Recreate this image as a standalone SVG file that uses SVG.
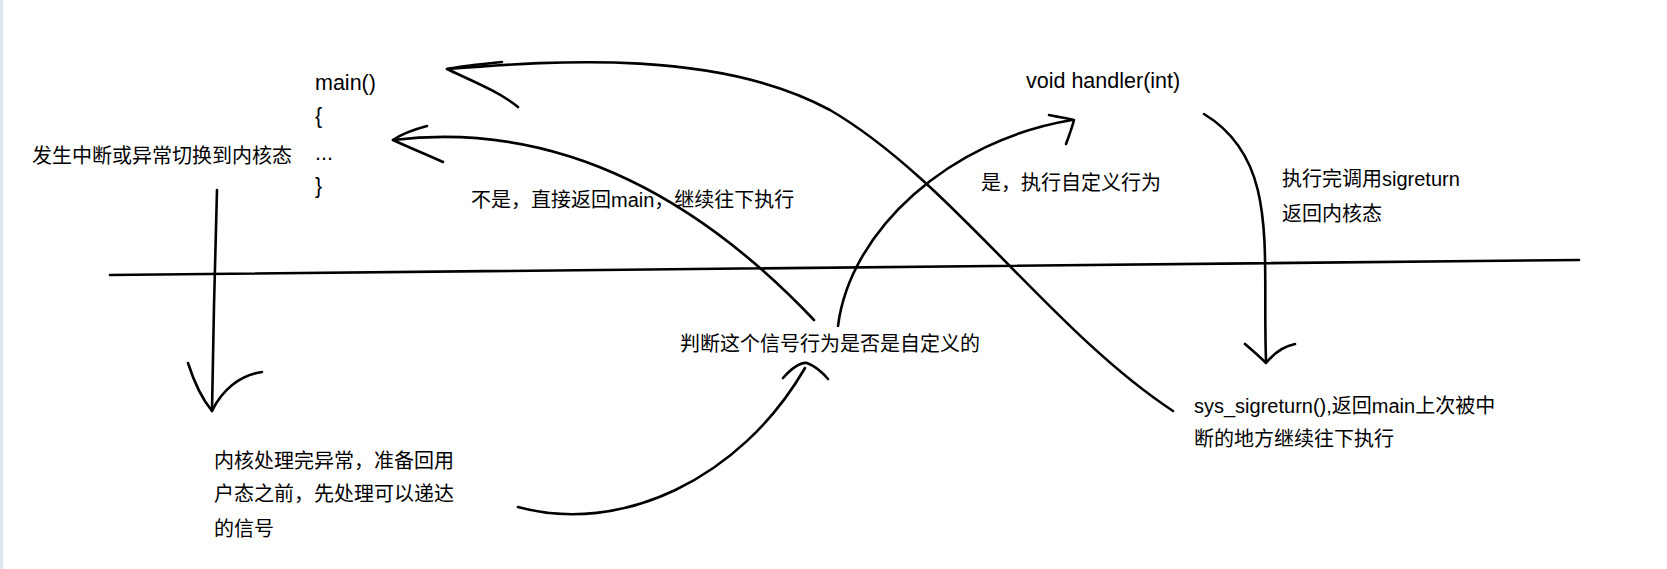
<svg xmlns="http://www.w3.org/2000/svg" width="1667" height="569" viewBox="0 0 1667 569">
<style>
text{font-family:"Liberation Sans","Noto Sans CJK SC",sans-serif;font-size:20px;fill:#000}
.l{font-size:21.5px}
.s{fill:none;stroke:#000;stroke-width:2.6;stroke-linecap:round;stroke-linejoin:round}
</style>
<rect width="1667" height="569" fill="#fff"/>
<rect x="0" y="0" width="3" height="569" fill="#dfe6f0"/>
<g id="main"><text class="l" x="315" y="90">main()</text><text class="l" x="315" y="123">{</text><text class="l" x="315" y="160">...</text><text class="l" x="315" y="193">}</text></g>
<g id="interrupt"><text x="32" y="163">发生中断或异常切换到内核态</text></g>
<g id="handler"><text class="l" x="1026" y="88">void handler(int)</text></g>
<g id="notcustom"><text x="471" y="207">不是，直接返回main，继续往下执行</text></g>
<g id="custom"><text x="981" y="190">是，执行自定义行为</text></g>
<g id="sigreturn"><text x="1282" y="186">执行完调用sigreturn</text><text x="1282" y="221">返回内核态</text></g>
<g id="judge"><text x="680" y="351">判断这个信号行为是否是自定义的</text></g>
<g id="sys"><text x="1194" y="413">sys_sigreturn(),返回main上次被中</text><text x="1194" y="446">断的地方继续往下执行</text></g>
<g id="kernel"><text x="214" y="468">内核处理完异常，准备回用</text><text x="214" y="501">户态之前，先处理可以递达</text><text x="214" y="536">的信号</text></g>
<g id="connectors">
<path class="s" d="M110,275 L1579,260"/>
<path class="s" d="M217,190 C215,260 213,340 212,411"/>
<path class="s" d="M188,363 C195,385 203,400 212,411 C222,390 240,375 262,372"/>
<path class="s" d="M518,507 C620,535 740,480 805,368"/>
<path class="s" d="M783,378 C792,368 800,362 807,363 C815,366 822,372 828,379"/>
<path class="s" d="M814,320 C700,200 560,120 393,140"/>
<path class="s" d="M427,126 C412,130 400,135 393,140 C410,148 428,155 443,162"/>
<path class="s" d="M838,326 C850,230 950,140 1072,120"/>
<path class="s" d="M1049,115 C1058,117 1066,118 1074,120 C1072,128 1069,136 1066,144"/>
<path class="s" d="M1204,114 C1280,160 1262,250 1266,360"/>
<path class="s" d="M1245,344 C1252,350 1259,356 1266,363 C1275,352 1285,346 1295,344"/>
<path class="s" d="M1173,411 C1050,330 950,180 830,110 C720,50 560,60 447,69"/>
<path class="s" d="M502,62 C482,64 462,66 447,69 C470,80 500,92 518,107"/>
</g>
</svg>
